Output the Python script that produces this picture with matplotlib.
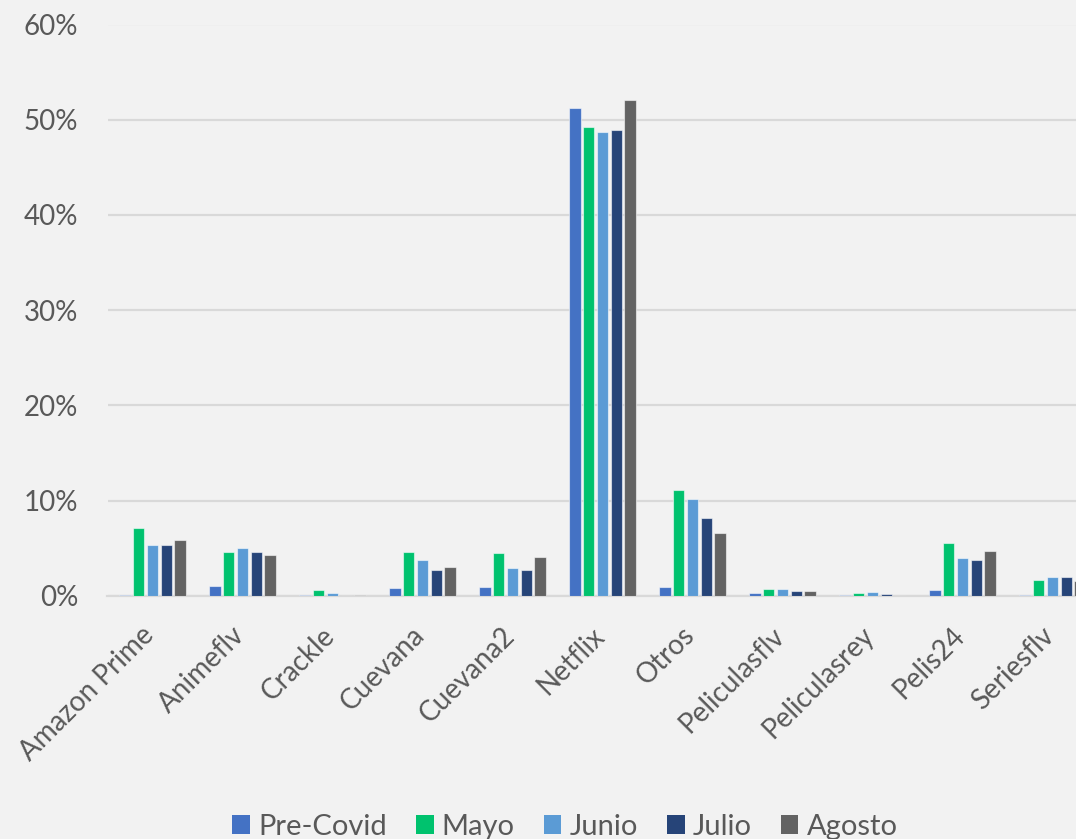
import matplotlib
matplotlib.use("Agg")
import matplotlib.pyplot as plt
import matplotlib.transforms as mtransforms
from matplotlib.ticker import FuncFormatter, MultipleLocator
from matplotlib.patches import Patch
import numpy as np

categories = ["Amazon Prime", "Animeflv", "Crackle", "Cuevana", "Cuevana2", "Netflix",
              "Otros", "Peliculasflv", "Peliculasrey", "Pelis24", "Seriesflv"]
series_names = ["Pre-Covid", "Mayo", "Junio", "Julio", "Agosto"]
pre_covid = [0.1, 1.0, 0.05, 0.8, 0.9, 51.2, 0.9, 0.3, 0.05, 0.6, 0.05]
mayo      = [7.1, 4.6, 0.6, 4.6, 4.5, 49.2, 11.1, 0.7, 0.3, 5.5, 1.6]
junio     = [5.3, 5.0, 0.3, 3.7, 2.9, 48.7, 10.2, 0.7, 0.35, 4.0, 1.95]
julio     = [5.3, 4.6, 0.0, 2.7, 2.7, 48.9, 8.2, 0.5, 0.2, 3.7, 1.95]
agosto    = [5.9, 4.3, 0.1, 3.0, 4.1, 52.1, 6.6, 0.45, 0.0, 4.7, 1.5]
series = [pre_covid, mayo, junio, julio, agosto]
colors = ["#4472C4", "#00C26E", "#5B9BD5", "#264478", "#636363"]

bg = "#F2F2F2"
txt = "#595959"
plt.rcParams['font.family'] = ['Lato', 'DejaVu Sans']

W, H = 1076, 839
fig = plt.figure(figsize=(W / 100, H / 100), dpi=100, facecolor=bg)
left_px, right_px = 107.5, 107.5 + 11 * 90
top_px, bot_px = 24.5, 595.7
ax = fig.add_axes([left_px / W, (H - bot_px) / H, (right_px - left_px) / W, (bot_px - top_px) / H])
ax.set_facecolor(bg)

x = np.arange(len(categories))
step = 0.153
width = 0.125
for i, (vals, col, name) in enumerate(zip(series, colors, series_names)):
    ax.bar(x + (i - 2) * step, np.array(vals) / 100, width=width, color=col,
           edgecolor=(1, 1, 1, 0.55), linewidth=0.8, label=name, zorder=3)

ax.set_xlim(-0.5, len(categories) - 0.5)
ax.set_ylim(0, 0.6)
ax.yaxis.set_major_locator(MultipleLocator(0.1))
ax.yaxis.set_major_formatter(FuncFormatter(lambda v, p: f"{v*100:.0f}%"))
ax.grid(axis='y', color='#D9D9D9', linewidth=1.6, zorder=0)
ax.set_axisbelow(True)
for s in ['top', 'right', 'left']:
    ax.spines[s].set_visible(False)
ax.spines['bottom'].set_color('#D9D9D9')
ax.spines['bottom'].set_linewidth(1.6)
ax.tick_params(axis='both', length=0, labelsize=20, labelcolor=txt)
ax.tick_params(axis='y', pad=21)

ax.set_xticks(x)
ax.set_xticklabels(categories, rotation=45, ha='right', va='top')
ax.tick_params(axis='x', pad=19)
offset = mtransforms.ScaledTranslation(7 / 100, 0, fig.dpi_scale_trans)
for lab in ax.get_xticklabels():
    lab.set_transform(lab.get_transform() + offset)

handles = [Patch(facecolor=c, edgecolor='none') for c in colors]
fig.legend(handles, series_names, loc='center', bbox_to_anchor=(565 / W, 12 / H),
           ncol=5, frameon=False, fontsize=21, labelcolor=txt,
           handlelength=0.6, handleheight=0.6, handletextpad=0.28, columnspacing=1.0,
           borderaxespad=0, borderpad=0)

fig.savefig("out.png", dpi=100, facecolor=bg)
